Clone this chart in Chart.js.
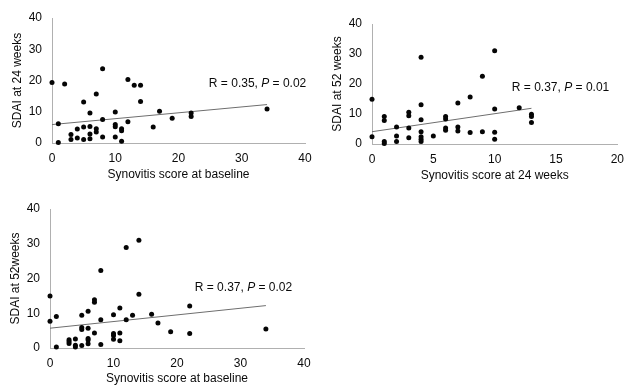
<!DOCTYPE html>
<html><head><meta charset="utf-8">
<script src="https://cdn.jsdelivr.net/npm/chart.js@4"></script>
<style>
html,body{margin:0;padding:0;background:#fff;width:632px;height:385px;overflow:hidden}
canvas{position:absolute}
</style></head><body>
<canvas id="c1" width="320" height="190" style="left:0;top:0"></canvas>
<canvas id="c2" width="312" height="190" style="left:320px;top:0"></canvas>
<canvas id="c3" width="320" height="195" style="left:0;top:190px"></canvas>
<script>
// Panel 1: SDAI at 24 weeks vs synovitis score at baseline
const p1X = [0,1,1,2,3,3,4,4,5,5,5,6,6,6,6,7,7,7,8,8,8,10,10,10,10,11,11,11,12,12,13,14,14,16,17,19,22,22,34];
const p1Y = [19.4,6.2,0.2,18.9,2.7,1.1,4.5,1.6,13.1,5.1,1.1,9.6,5.3,2.9,1.4,15.7,4.6,3.5,23.8,7.5,1.9,9.9,5.9,5.2,1.9,4.6,3.9,0.6,20.3,6.8,18.5,18.5,13.3,5.1,10.2,7.9,9.6,8.5,10.9];
const t1X = [0,34];
const t1Y = [5.9,12.3];
// Panel 2: SDAI at 52 weeks vs synovitis score at 24 weeks
const p2X = [0,0,1,1,1,1,2,2,2,3,3,3,3,4,4,4,4,4,4,4,5,6,6,6,6,7,7,7,8,8,9,9,10,10,10,10,12,13,13,13];
const p2Y = [14.9,2.4,9.2,7.8,0.8,0.2,5.7,2.7,0.8,10.6,9.4,5.3,2.1,28.9,13.1,8.1,4.1,2.4,1.6,0.8,2.7,9.2,8.3,5.3,4.6,13.7,5.7,4.3,15.7,3.8,22.6,4.1,31.1,11.7,3.9,1.6,12.1,9.9,9.2,7.2];
const t2X = [0,13];
const t2Y = [4.1,11.9];
// Panel 3: SDAI at 52 weeks vs synovitis score at baseline
const p3X = [0,0,1,1,3,3,3,4,4,4,5,5,5,5,6,6,6,6,6,7,7,7,8,8,8,10,10,10,10,11,11,11,12,12,13,14,14,16,17,19,22,22,34];
const p3Y = [15.0,7.7,9.1,0.3,2.4,1.9,1.3,2.6,0.8,0.3,9.4,5.9,5.3,0.7,10.6,5.7,2.7,2.3,1.2,13.9,13.2,4.3,22.3,8.1,1.0,9.6,4.2,3.6,2.5,11.5,4.3,2.1,28.9,8.1,9.4,31.0,15.5,9.7,7.2,4.7,12.1,4.2,5.5];
const t3X = [0,34];
const t3Y = [5.7,12.2];

const yTicks = [0,10,20,30,40];
const xTicks1 = [0,10,20,30,40];
const xTicks2 = [0,5,10,15,20];
const xTicks3 = [0,10,20,30,40];

const titles = {
  y1: 'SDAI at 24 weeks', x1: 'Synovitis score at baseline',
  y2: 'SDAI at 52 weeks', x2: 'Synovitis score at 24 weeks',
  y3: 'SDAI at 52weeks',  x3: 'Synovitis score at baseline'
};
const stats = [
  {r:'0.35', p:'0.02'},
  {r:'0.37', p:'0.01'},
  {r:'0.37', p:'0.02'}
];

const FONT = '"Liberation Sans", Arial, Helvetica, sans-serif';
const TXT = '#0a0a0a';

const rpPlugin = {
  id: 'rp',
  afterDatasetsDraw(chart, args, opts) {
    if (!opts || opts.r === undefined) return;
    const ctx = chart.ctx;
    const x = chart.scales.x.getPixelForValue(opts.atX);
    const y = chart.scales.y.getPixelForValue(opts.atY);
    ctx.save();
    ctx.fillStyle = TXT;
    ctx.textBaseline = 'middle';
    ctx.textAlign = 'left';
    const parts = [
      ['R = ' + opts.r + ', ', 'normal'],
      ['P', 'italic'],
      [' = ' + opts.p, 'normal']
    ];
    let cx = x;
    for (const [t, st] of parts) {
      ctx.font = st + ' 12px ' + FONT;
      ctx.fillText(t, cx, y);
      cx += ctx.measureText(t).width;
    }
    ctx.restore();
  }
};

function zip(xs, ys) { return xs.map((v, i) => ({x: v, y: ys[i]})); }

function makeChart(id, px, py, tx, ty, xTicks, xTitle, yTitle, st, geo) {
  const axisBorder = {display: true, color: '#b0b0b0', width: 1, dash: [1, 2]};
  return new Chart(document.getElementById(id), {
    type: 'scatter',
    data: {
      datasets: [
        {data: zip(tx, ty), type: 'line', showLine: true, borderColor: '#6e6e6e', borderWidth: 1,
         pointRadius: 0, fill: false, clip: false, order: 2},
        {data: zip(px, py), backgroundColor: '#050505', borderColor: '#050505', pointRadius: 2.5,
         pointBorderWidth: 0, clip: false, order: 1}
      ]
    },
    options: {
      responsive: false, animation: false, events: [],
      layout: {padding: {left: 0, right: geo.right, top: geo.top, bottom: 0}},
      plugins: {
        legend: {display: false}, tooltip: {enabled: false},
        rp: {r: st.r, p: st.p, atX: geo.ax, atY: geo.ay}
      },
      scales: {
        x: {
          type: 'linear', min: xTicks[0], max: xTicks[xTicks.length - 1],
          afterBuildTicks: s => { s.ticks = xTicks.map(v => ({value: v})); },
          afterFit: s => { s.height = geo.xh; },
          grid: {display: false, drawTicks: false},
          border: axisBorder,
          ticks: {color: TXT, font: {family: FONT, size: 12}, padding: 8, maxRotation: 0},
          title: {display: true, text: xTitle, color: TXT, font: {family: FONT, size: 12},
                  padding: {top: 0, bottom: geo.xtb}}
        },
        y: {
          type: 'linear', min: 0, max: 40,
          afterBuildTicks: s => { s.ticks = yTicks.map(v => ({value: v})); },
          afterFit: s => { s.width = geo.yw; },
          grid: {display: false, drawTicks: false},
          border: axisBorder,
          ticks: {color: TXT, font: {family: FONT, size: 12}, padding: 10},
          title: {display: true, text: yTitle, color: TXT, font: {family: FONT, size: 12},
                  padding: {top: geo.ytp, bottom: 0}}
        }
      }
    },
    plugins: [rpPlugin]
  });
}

makeChart('c1', p1X, p1Y, t1X, t1Y, xTicks1, titles.x1, titles.y1, stats[0],
  {right: 15, top: 18, xh: 47, yw: 52, xtb: 7.8, ytp: 10, ax: 24.8, ay: 18.9});
makeChart('c2', p2X, p2Y, t2X, t2Y, xTicks2, titles.x2, titles.y2, stats[1],
  {right: 8, top: 24, xh: 46, yw: 52, xtb: 6.8, ytp: 10, ax: 11.4, ay: 18.7});
makeChart('c3', p3X, p3Y, t3X, t3Y, xTicks3, titles.x3, titles.y3, stats[2],
  {right: 16, top: 19, xh: 37, yw: 50, xtb: -1, ytp: 8, ax: 22.8, ay: 17.5});
</script>
</body></html>
